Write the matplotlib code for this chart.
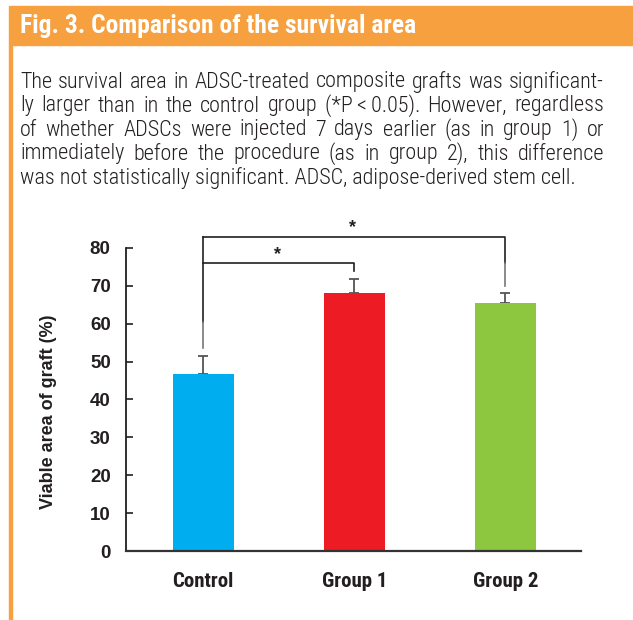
import matplotlib
matplotlib.use("Agg")
import matplotlib.pyplot as plt
from matplotlib.patches import Rectangle
from matplotlib import font_manager

groups = ["Control", "Group 1", "Group 2"]
viable_area = [46.7, 68.1, 65.4]
sem = [4.8, 3.7, 2.6]
bar_colors = ["#00AEEF", "#ED1C24", "#8DC63F"]
y_ticks = [0, 10, 20, 30, 40, 50, 60, 70, 80]

title = "Fig. 3. Comparison of the survival area"
caption_lines = [
    "The survival area in ADSC-treated composite grafts was significant-",
    "ly larger than in the control group (*P\u2009<\u20090.05). However, regardless",
    "of whether ADSCs were injected 7 days earlier (as in group 1) or",
    "immediately before the procedure (as in group 2), this difference",
    "was not statistically significant. ADSC, adipose-derived stem cell.",
]

# pick a narrow face if one is installed
installed = {f.name for f in font_manager.fontManager.ttflist}
narrow = next((n for n in ["Roboto Condensed", "Liberation Sans Narrow", "Arial Narrow",
                           "PT Sans Narrow", "Archivo Narrow", "Open Sans Condensed"]
               if n in installed), None)
if narrow:
    cond = dict(family=[narrow, "DejaVu Sans"])
else:
    cond = dict(family=["DejaVu Sans"], fontstretch="condensed")
plt.rcParams['font.family'] = ['Liberation Sans', 'DejaVu Sans']

W, H = 633, 620
orange = "#F6A040"
ink = "#231F20"
fig = plt.figure(figsize=(W / 100, H / 100), dpi=100)
renderer = fig.canvas.get_renderer()


def fit_size(s, target, **kw):
    t = fig.text(0, 0, s, fontsize=10, **kw)
    w = t.get_window_extent(renderer).width
    t.remove()
    return 10 * target / w


# header band + left border
fig.patches.append(Rectangle((9 / W, 1 - 45 / H), 1, 39 / H, transform=fig.transFigure,
                             color=orange, zorder=0))
fig.patches.append(Rectangle((9 / W, 0), 3 / W, 1 - 45 / H, transform=fig.transFigure,
                             color=orange, zorder=0))
tsize = fit_size(title, 396, fontweight="bold", **cond)
fig.text(20 / W, 1 - 26 / H, title, color="white", fontsize=tsize, fontweight="bold",
         va="center", ha="left", **cond)

# caption, justified line by line
csize = min(fit_size(caption_lines[0], 578, fontweight="light", **cond), 16.5)
x0, x1 = 20, 604
for i, line in enumerate(caption_lines):
    y = 1 - (82 + i * 24) / H
    if i == len(caption_lines) - 1:
        fig.text(x0 / W, y, line, fontsize=csize, fontweight="light", va="center",
                 ha="left", color=ink, **cond)
        continue
    words = line.split(" ")
    texts = [fig.text(0, y, w, fontsize=csize, fontweight="light", va="center", ha="left",
                      color=ink, **cond) for w in words]
    widths = [t.get_window_extent(renderer).width for t in texts]
    gap = (x1 - x0 - sum(widths)) / (len(words) - 1)
    pos = x0
    for t, wd in zip(texts, widths):
        t.set_x(pos / W)
        pos += wd + gap

# chart
ax = fig.add_axes([126 / W, (H - 551) / H, 455 / W, 341 / H])
x = range(len(groups))
ax.bar(x, viable_area, width=0.404, color=bar_colors, zorder=2)
ax.errorbar(x, viable_area, yerr=[[0, 0, 0], sem], fmt="none", ecolor="#555555",
            elinewidth=1.3, capsize=3.5, capthick=1.3, zorder=1)

# significance brackets
ax.plot([0, 0], [82.8, 60.5], color=ink, lw=1.2, clip_on=False)
ax.plot([0, 0], [60.5, 53.6], color="#777777", lw=1.2, clip_on=False)
ax.plot([0, 1, 1], [75.9, 75.9, 74.0], color=ink, lw=1.2, clip_on=False)
ax.plot([0, 2, 2], [82.8, 82.8, 76.0], color=ink, lw=1.2, clip_on=False)
ax.plot([2, 2], [76.0, 70.0], color="#777777", lw=1.2, clip_on=False)
ax.text(0.49, 78.2, "*", ha="center", va="center", fontsize=13, fontweight="bold", color=ink)
ax.text(0.99, 85.4, "*", ha="center", va="center", fontsize=13, fontweight="bold", color=ink)

ax.set_xlim(-0.51, 2.5)
ax.set_ylim(0, 90)
ax.set_yticks(y_ticks)
ax.set_yticklabels([str(v) for v in y_ticks], fontweight="bold", fontsize=13.5, color=ink)
ax.set_xticks(list(x))
ax.set_xticklabels(groups, fontweight="bold", fontsize=15, color=ink, **cond)
ax.tick_params(axis="y", direction="in", length=5, width=1.2, color=ink, pad=11)
ax.tick_params(axis="x", length=0, pad=15)
for s in ["top", "right"]:
    ax.spines[s].set_visible(False)
ax.spines["left"].set_bounds(0, 80)
ax.spines["left"].set_linewidth(1.3)
ax.spines["bottom"].set_linewidth(1.6)
ax.spines["left"].set_color(ink)
ax.spines["bottom"].set_color("#333333")
ax.set_ylabel("Viable area of graft (%)", fontweight="bold", fontsize=13, color=ink)
ax.yaxis.set_label_coords((57 - 126) / 455, (551 - 412) / 341)

fig.savefig("out.png", dpi=100)
